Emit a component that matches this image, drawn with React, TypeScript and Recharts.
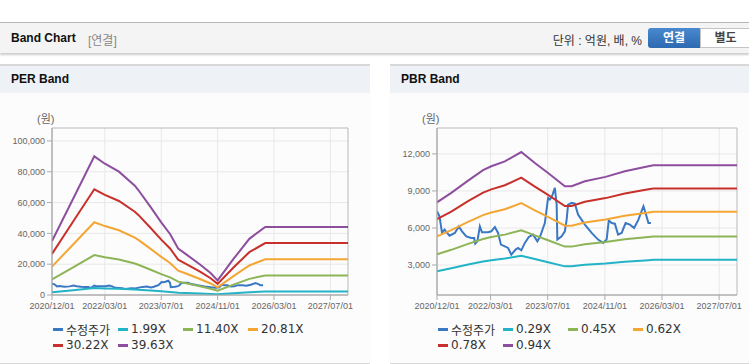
import { LineChart, Line, XAxis, YAxis, CartesianGrid, ReferenceArea } from 'recharts'

// x axis: months since 2020/12/01
const xTicks = [0, 15, 31, 47, 63, 79]
const xTickLabels = ['2020/12/01', '2022/03/01', '2023/07/01', '2024/11/01', '2026/03/01', '2027/07/01']

// adjusted share price (수정주가)
const priceMonths = [
  0, 0.7, 1.4, 2.1, 3.5, 5, 6.1, 7, 8.2, 9.6, 10.4, 10.7, 11.3, 12, 12.6, 14.3, 15.2, 16.2, 17.1, 17.9,
  19, 19.9, 20.8, 22, 22.7, 23.6, 24.6, 25.7, 26.9, 28.1, 28.9, 29.7, 30.2, 31.1, 31.6, 32.2, 33, 33.5,
  33.7, 34.9, 35.8, 36.3, 36.7, 37.7, 38.6, 39.5, 41.4, 43.3, 45.1, 46.5, 47.5, 48.1, 48.9, 49.8, 50.7,
  51.7, 52.8, 54, 55.2, 56.4, 57.8, 58.4, 59.2, 59.9
]
const priceValues = [
  7350, 6950, 5600, 5860, 5380, 5600, 6130, 5730, 5320, 5190, 5190, 4730, 4920, 6130, 5650, 5650, 5730,
  6080, 5600, 4650, 4510, 4380, 3840, 4250, 4380, 4190, 4790, 5270, 5460, 4920, 5320, 6000, 6400, 8430,
  8300, 8570, 9250, 7890, 5060, 5320, 5730, 6680, 7890, 8030, 7970, 7080, 6270, 5600, 5060, 4790, 5060,
  6620, 6400, 6350, 5460, 5600, 6400, 6270, 6000, 6680, 7760, 7220, 6400, 6400
]

// PER band
const perBandMonths = [0, 6, 12, 15, 19, 23.5, 24.5, 28, 31, 33.5, 35.8, 38, 42, 45, 47, 51.5, 56, 60.5, 84]
const per199 = [1760, 3140, 4520, 4280, 4020, 3560, 3420, 2870, 2370, 1990, 1510, 1330, 1000, 720, 480, 1170, 1830, 2220, 2220]
const per1140 = [10070, 17980, 25890, 24510, 23030, 20410, 19610, 16420, 13570, 11400, 8660, 7640, 5700, 4100, 2740, 6730, 10490, 12710, 12710]
const per2081 = [18380, 32820, 47260, 44740, 42040, 37250, 35790, 29970, 24760, 20810, 15820, 13940, 10410, 7490, 4990, 12280, 19150, 23200, 23200]
const per3022 = [26680, 47660, 68630, 64970, 61040, 54090, 51980, 43520, 35960, 30220, 22970, 20250, 15110, 10880, 7250, 17830, 27800, 33700, 33700]
const per3963 = [34990, 62500, 90000, 85210, 80050, 70940, 68160, 57070, 47160, 39630, 30120, 26550, 19820, 14270, 9510, 23380, 36460, 44190, 44190]
const perYTicks = [0, 20000, 40000, 60000, 80000, 100000]

// PBR band
const pbrBandMonths = [0, 4, 8.7, 12.9, 15.2, 19, 23.6, 27.4, 31.1, 35.8, 37.7, 41.4, 47.2, 52.6, 59.2, 60.6, 84]
const pbr029 = [2490, 2730, 3040, 3290, 3390, 3520, 3750, 3480, 3230, 2890, 2890, 3020, 3130, 3270, 3390, 3420, 3420]
const pbr045 = [3870, 4230, 4710, 5110, 5270, 5460, 5810, 5400, 5010, 4490, 4490, 4690, 4860, 5080, 5270, 5310, 5310]
const pbr062 = [5330, 5830, 6490, 7040, 7250, 7520, 8010, 7430, 6900, 6190, 6190, 6450, 6690, 6990, 7250, 7320, 7320]
const pbr078 = [6710, 7330, 8170, 8860, 9130, 9460, 10080, 9350, 8680, 7780, 7780, 8120, 8420, 8800, 9130, 9200, 9200]
const pbr094 = [8080, 8840, 9840, 10680, 11000, 11400, 12150, 11270, 10460, 9380, 9380, 9790, 10140, 10600, 11000, 11090, 11090]
const pbrYTicks = [3000, 6000, 9000, 12000]

const COLORS = ['#3a78c4', '#22b3c6', '#8db456', '#f4a634', '#c7302b', '#8d4e9e']

const perNames = ['수정주가', '1.99X', '11.40X', '20.81X', '30.22X', '39.63X']
const pbrNames = ['수정주가', '0.29X', '0.45X', '0.62X', '0.78X', '0.94X']

const toPoints = (months: number[], values: number[]) => months.map((m, i) => ({ m, v: values[i] }))

const FONT = '"Liberation Sans", Arial, "Noto Sans CJK KR", sans-serif'

interface PanelProps {
  left: number
  width: number
  title: string
  names: string[]
  bandMonths: number[]
  bands: number[][]
  yDomain: [number, number]
  yTicks: number[]
  chartLeft: number
  chartWidth: number
  marginRight: number
}

const BandPanel = ({ left, width, title, names, bandMonths, bands, yDomain, yTicks, chartLeft, chartWidth, marginRight }: PanelProps) => {
  const series = [toPoints(priceMonths, priceValues), ...bands.map((b) => toPoints(bandMonths, b))]
  const legendCols = [0, 65, 130, 195]
  return (
    <>
      <div
        style={{
          position: 'absolute',
          left,
          top: 64,
          width,
          height: 297,
          background: '#fcfcfc',
          borderTop: '2px solid #d8d8d8',
          borderBottom: '1px solid #d8d8d8'
        }}
      >
        <div style={{ height: 27, background: '#eef1f6', fontWeight: 'bold', fontSize: 12, color: '#111', lineHeight: '27px', paddingLeft: 11 }}>
          {title}
        </div>
      </div>
      <div style={{ position: 'absolute', left: chartLeft + 37, top: 110, fontSize: 11, color: '#666', fontFamily: FONT }}>(원)</div>
      <div style={{ position: 'absolute', left: chartLeft, top: 100 }}>
        <LineChart width={chartWidth} height={220} margin={{ top: 28, right: marginRight, left: 0, bottom: 0 }}>
          <CartesianGrid stroke="#e8e8e8" horizontalValues={yTicks} verticalValues={xTicks} />
          <XAxis
            type="number"
            dataKey="m"
            domain={[0, 84]}
            ticks={xTicks}
            tickFormatter={(v) => xTickLabels[xTicks.indexOf(v)] ?? ''}
            stroke="#aaa"
            tickSize={5}
            tickMargin={3}
            height={25}
            interval={0}
            allowDataOverflow
            tick={{ fontSize: 9, fill: '#666', fontFamily: FONT }}
          />
          <YAxis
            type="number"
            domain={yDomain}
            ticks={yTicks}
            allowDataOverflow
            width={52}
            stroke="#aaa"
            tickSize={5}
            tickMargin={2}
            tickFormatter={(v) => Number(v).toLocaleString('en-US')}
            tick={{ fontSize: 9, fill: '#666', fontFamily: FONT }}
          />
          <ReferenceArea x1={0} x2={84} y1={yDomain[0]} y2={yDomain[1]} fill="none" stroke="#b8b8b8" />
          {series.map((d, i) => (
            <Line
              key={names[i]}
              data={d}
              dataKey="v"
              type="linear"
              stroke={COLORS[i]}
              strokeWidth={2}
              dot={false}
              isAnimationActive={false}
            />
          ))}
        </LineChart>
      </div>
      {names.map((n, i) => (
        <div
          key={n}
          style={{
            position: 'absolute',
            left: chartLeft + 53 + legendCols[i % 4],
            top: i < 4 ? 322 : 338,
            height: 14,
            display: 'flex',
            alignItems: 'center',
            fontSize: 12,
            color: '#333',
            fontFamily: '"DejaVu Sans", "Noto Sans CJK KR", sans-serif'
          }}
        >
          <span style={{ display: 'inline-block', width: 10, height: 3, background: COLORS[i], marginRight: 3 }} />
          {n}
        </div>
      ))}
    </>
  )
}

export default function App() {
  return (
    <div style={{ position: 'absolute', left: 0, top: 0, width: 749, height: 364, background: '#fff', fontFamily: FONT, overflow: 'hidden' }}>
      <div
        style={{
          position: 'absolute',
          left: 0,
          top: 22,
          width: 749,
          height: 30,
          background: '#f4f4f4',
          borderTop: '1px solid #b8b8b8',
          boxShadow: '0 2px 2px rgba(0,0,0,0.2)'
        }}
      >
        <span style={{ position: 'absolute', left: 11, top: 8, fontSize: 12, fontWeight: 'bold', color: '#111' }}>Band Chart</span>
        <span style={{ position: 'absolute', left: 88, top: 8, fontSize: 12, color: '#888' }}>[연결]</span>
        <span style={{ position: 'absolute', right: 107, top: 8, fontSize: 12, color: '#333' }}>단위 : 억원, 배, %</span>
        <div
          style={{
            position: 'absolute',
            left: 648,
            top: 5,
            width: 52,
            height: 20,
            background: 'linear-gradient(#4a89cf, #2c69b0)',
            borderRadius: '3px 0 0 3px',
            color: '#fff',
            fontWeight: 'bold',
            fontSize: 12,
            textAlign: 'center',
            lineHeight: '20px'
          }}
        >
          연결
        </div>
        <div
          style={{
            position: 'absolute',
            left: 700,
            top: 5,
            width: 49,
            height: 18,
            background: '#fff',
            border: '1px solid #c4c4c4',
            color: '#444',
            fontWeight: 'bold',
            fontSize: 12,
            textAlign: 'center',
            lineHeight: '18px'
          }}
        >
          별도
        </div>
      </div>
      <BandPanel
        left={0}
        width={370}
        title="PER Band"
        names={perNames}
        bandMonths={perBandMonths}
        bands={[per199, per1140, per2081, per3022, per3963]}
        yDomain={[0, 108400]}
        yTicks={perYTicks}
        chartLeft={0}
        chartWidth={370}
        marginRight={22}
      />
      <BandPanel
        left={390}
        width={359}
        title="PBR Band"
        names={pbrNames}
        bandMonths={pbrBandMonths}
        bands={[pbr029, pbr045, pbr062, pbr078, pbr094]}
        yDomain={[570, 14100]}
        yTicks={pbrYTicks}
        chartLeft={385}
        chartWidth={364}
        marginRight={12}
      />
    </div>
  )
}
